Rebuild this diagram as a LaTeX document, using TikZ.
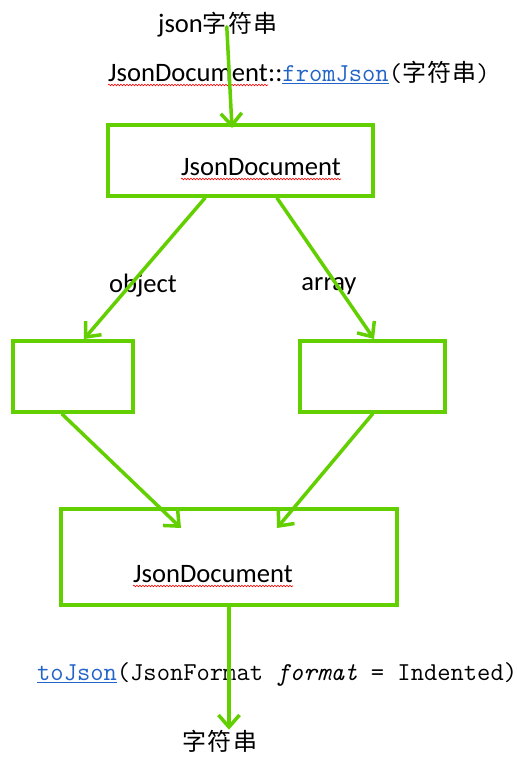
\documentclass[tikz,border=0pt]{standalone}
\usepackage{fontspec}
\setmainfont{Carlito}
\newfontfamily\cjk{Noto Sans CJK SC}
\usetikzlibrary{arrows.meta,decorations.pathmorphing}
\definecolor{boxgreen}{RGB}{98,208,0}
\definecolor{linkblue}{RGB}{35,100,200}
\newcommand{\code}{\ttfamily\fontsize{25.8}{29}\selectfont}
\newcommand{\zh}{\cjk\fontsize{24}{28}\selectfont\addfontfeatures{LetterSpace=5}}

\begin{document}
\begin{tikzpicture}[x=1pt, y=-1pt, >={Straight Barb[length=12pt,width=21pt]},
    box/.style={draw=boxgreen, line width=4pt, inner sep=0pt},
    flow/.style={->, draw=boxgreen, line width=3.5pt, line cap=round},
    txt/.style={inner sep=0pt, font=\fontsize{26.6}{30}\selectfont},
    wavy/.style={red, line width=0.6pt, decorate, decoration={snake, amplitude=0.8pt, segment length=3pt}}]
      \useasboundingbox (0,0) rectangle (517,761);

      % boxes
      \node[box, minimum width=265pt, minimum height=71pt] (top) at (240.5,160.5) {};
      \node[box, minimum width=120pt, minimum height=71pt] (left) at (73,376.5) {};
      \node[box, minimum width=145pt, minimum height=71pt] (right) at (372.5,376.5) {};
      \node[box, minimum width=336pt, minimum height=96pt] (bot) at (229,557) {};

      % texts
      \node[txt, anchor=base west] (json) at (158,32) {json{\zh 字符串}};
      \node[txt, anchor=base west] (cls) at (108,81) {JsonDocument};
      \node[txt, anchor=base west] (call) at (cls.base east) {::{\code{\color{linkblue}\underline{fromJson}}(}{\zh 字符串}{\code)}};
      \node[txt, anchor=base west] (doc1) at (181,175) {JsonDocument};
      \node[txt] (obj) at (143,286) {object};
      \node[txt] (arr) at (329,286) {array};
      \node[txt, anchor=base west] (doc2) at (133,582) {JsonDocument};
      \node[txt, anchor=base west] (tojson) at (37,680) {\code{\color{linkblue}\underline{toJson}}(JsonFormat \textit{format} = Indented)};
      \node[txt] (str) at (220,741) {\zh 字符串};

      \draw[wavy] ([yshift=-4pt]cls.base west) -- ([yshift=-4pt]cls.base east);
      \draw[wavy] ([yshift=-4pt]doc1.base west) -- ([yshift=-4pt]doc1.base east);
      \draw[wavy] ([yshift=-4pt]doc2.base west) -- ([yshift=-4pt]doc2.base east);

      % arrows
      \draw[flow] ([xshift=9pt,yshift=10pt]json.south) -- ([xshift=-8.5pt,yshift=-5pt]top.north);
      \draw[flow] ([xshift=-35.5pt]top.south) -- ([xshift=11pt]left.north);
      \draw[flow] ([xshift=36.5pt]top.south) -- ([xshift=1.5pt]right.north);
      \draw[flow] ([xshift=-11pt]left.south) -- ([xshift=-48pt,yshift=-21pt]bot.north);
      \draw[flow] (right.south) -- ([xshift=48pt,yshift=-21pt]bot.north);
      \draw[flow] (bot.south) -- ([xshift=9pt]str.north);
    \end{tikzpicture}
\end{document}
